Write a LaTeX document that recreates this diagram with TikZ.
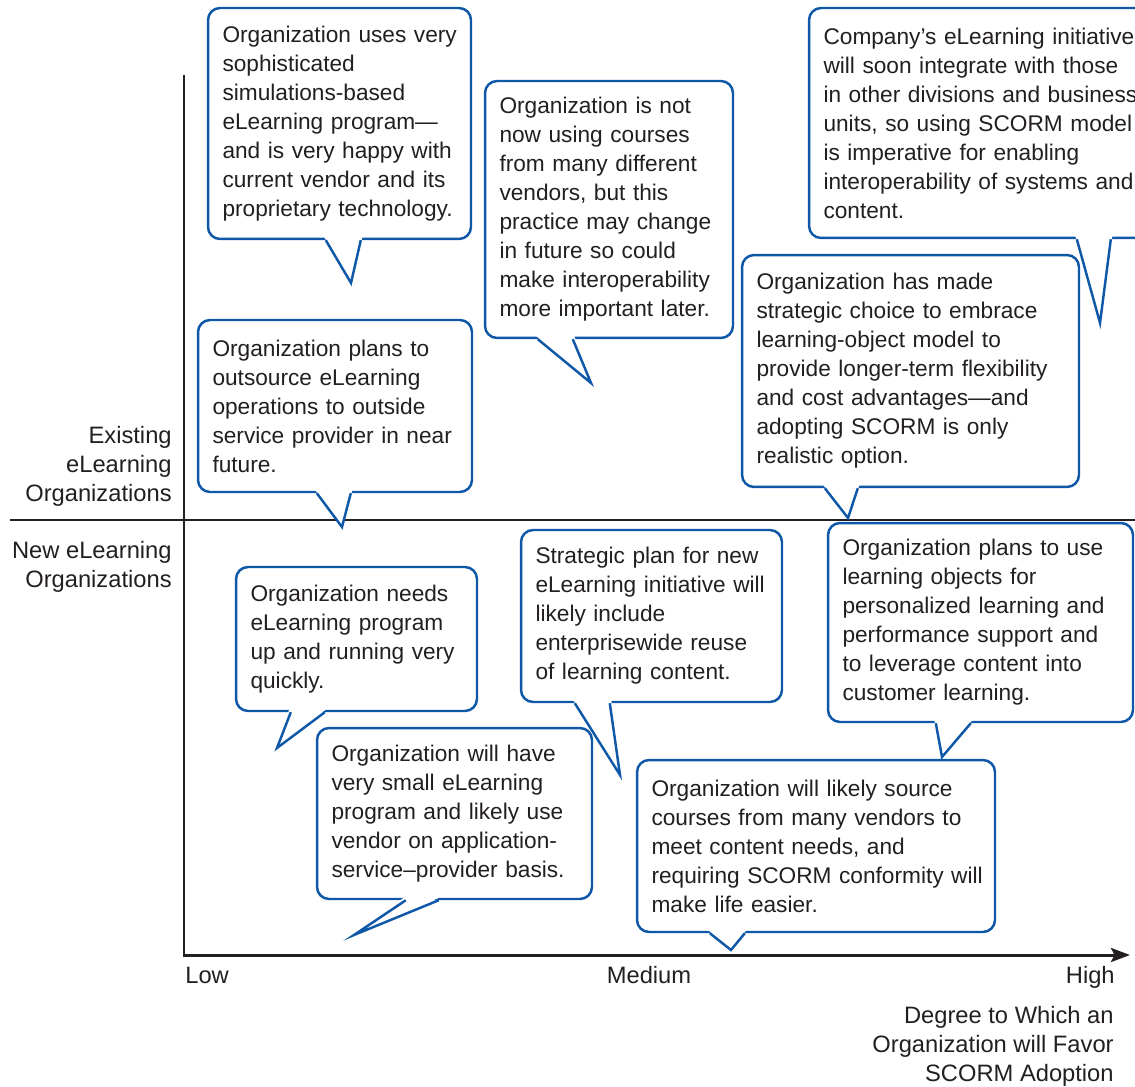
\documentclass[tikz,border=0pt]{standalone}
\usepackage{fontspec}
\setmainfont{Liberation Sans}
\usetikzlibrary{arrows.meta, calc}
\usepackage{xcolor}
\definecolor{bubblecol}{HTML}{0F58A8}
\definecolor{inkcol}{HTML}{231F20}

\begin{document}
\begin{tikzpicture}[
    x=0.02cm, y=-0.02cm,
    >={Stealth[length=0.38cm, width=0.28cm, inset=0.07cm]},
    bubble/.style={
        draw=bubblecol, fill=white, rounded corners=0.24cm, line width=1.4pt,
        align=left, inner xsep=0.29cm, inner ysep=0pt, text=inkcol,
        font=\fontsize{12.9}{16.5}\selectfont,
        execute at begin node={\rightskip=-2cm plus 1fil}
    },
    tail/.style={draw=bubblecol, line width=1.4pt, line join=miter},
    axisline/.style={draw=inkcol, line width=1.7pt},
    axislabel/.style={
        inner sep=0pt, text=inkcol, font=\fontsize{13.5}{16.5}\selectfont
    },
]
\useasboundingbox (0,0) rectangle (1135,1087);

% ── Axes ──
\coordinate (ytop)   at (184,75);
\coordinate (origin) at (184,955);
\coordinate (xend)   at (1130,955);
\coordinate (midL)   at (10,520);
\coordinate (midR)   at (1135,520);
\draw[axisline] (midL) -- (midR);
\draw[axisline, ->] (ytop) -- (origin) -- (xend);

% ── Axis labels ──
\node[axislabel, anchor=base west] (low) at (185,983) {Low};
\node[axislabel, anchor=base] (medium) at (649,983) {Medium};
\node[axislabel, anchor=base east] (high) at (1115,983) {High};
\node[axislabel, align=right, anchor=east] (degree) at (1114,1046)
    {Degree to Which an\\Organization will Favor\\SCORM Adoption};
\node[axislabel, align=right, anchor=east] (existing) at (172,466)
    {Existing\\eLearning\\Organizations};
\node[axislabel, align=right, anchor=east] (new) at (172,567)
    {New eLearning\\Organizations};

% ── Existing organizations ──
\node[bubble, text width=4.68cm, minimum height=4.62cm] (sim) at (339.5,123.5)
    {Organization uses very\\sophisticated\\simulations-based\\eLearning program—\\
     and is very happy with\\current vendor and its\\proprietary technology.};
\node[bubble, text width=4.38cm, minimum height=5.14cm] (notnow) at (609,209.5)
    {Organization is not\\now using courses\\from many different\\vendors, but this\\
     practice may change\\in future so could\\make interoperability\\more important later.};
\node[bubble, text width=6.20cm, minimum height=4.60cm] (company) at (978.5,123)
    {Company’s eLearning initiative\\will soon integrate with those\\in other divisions and business\\
     units, so using SCORM model\\is imperative for enabling\\interoperability of systems and\\content.};
\node[bubble, text width=6.16cm, minimum height=4.64cm] (strategic) at (910.5,371)
    {Organization has made\\strategic choice to embrace\\learning-object model to\\
     provide longer-term flexibility\\and cost advantages—and\\adopting SCORM is only\\realistic option.};
\node[bubble, text width=4.90cm, minimum height=3.44cm] (outsource) at (335,406)
    {Organization plans to\\outsource eLearning\\operations to outside\\service provider in near\\future.};

% ── New organizations ──
\node[bubble, text width=5.52cm, minimum height=3.98cm] (objects) at (980.5,622.5)
    {Organization plans to use\\learning objects for\\personalized learning and\\
     performance support and\\to leverage content into\\customer learning.};
\node[bubble, text width=6.58cm, minimum height=3.44cm] (manyvendors) at (816,846)
    {Organization will likely source\\courses from many vendors to\\meet content needs, and\\
     requiring SCORM conformity will\\make life easier.};
\node[bubble, text width=4.64cm, minimum height=3.44cm] (enterprise) at (651.5,616)
    {Strategic plan for new\\eLearning initiative will\\likely include\\enterprisewide reuse\\of learning content.};
\node[bubble, text width=4.24cm, minimum height=2.88cm] (quickly) at (356.5,639)
    {Organization needs\\eLearning program\\up and running very\\quickly.};
\node[bubble, text width=4.92cm, minimum height=3.42cm] (asp) at (454.5,813.5)
    {Organization will have\\very small eLearning\\program and likely use\\
     vendor on application-\\service–provider basis.};

% ── Tails ──
\coordinate (simtip)         at (351,283);
\coordinate (notnowtip)      at (591,383);
\coordinate (companytip)     at (1100,323);
\coordinate (strategictip)   at (848,518);
\coordinate (outsourcetip)   at (342,527);
\coordinate (objectstip)     at (942,757);
\coordinate (manyvendorstip) at (731,950);
\coordinate (enterprisetip)  at (620,775);
\coordinate (quicklytip)     at (277,748);
\coordinate (asptip)         at (354,935);

\foreach \n/\a/\b in {sim/119/154, notnow/54/89, company/269/303, strategic/84/117,
    outsource/120/154, objects/109/144, manyvendors/74/109, enterprise/55/90,
    quickly/56/90, asp/90/123}{
    \fill[white] ($(\n.south west)+(\a-1.5,-3)$) -- (\n tip) -- ($(\n.south west)+(\b+1.5,-3)$) -- cycle;
    \draw[tail] ($(\n.south west)+(\a,0)$) -- (\n tip) -- ($(\n.south west)+(\b,0)$);
}

\end{tikzpicture}
\end{document}
